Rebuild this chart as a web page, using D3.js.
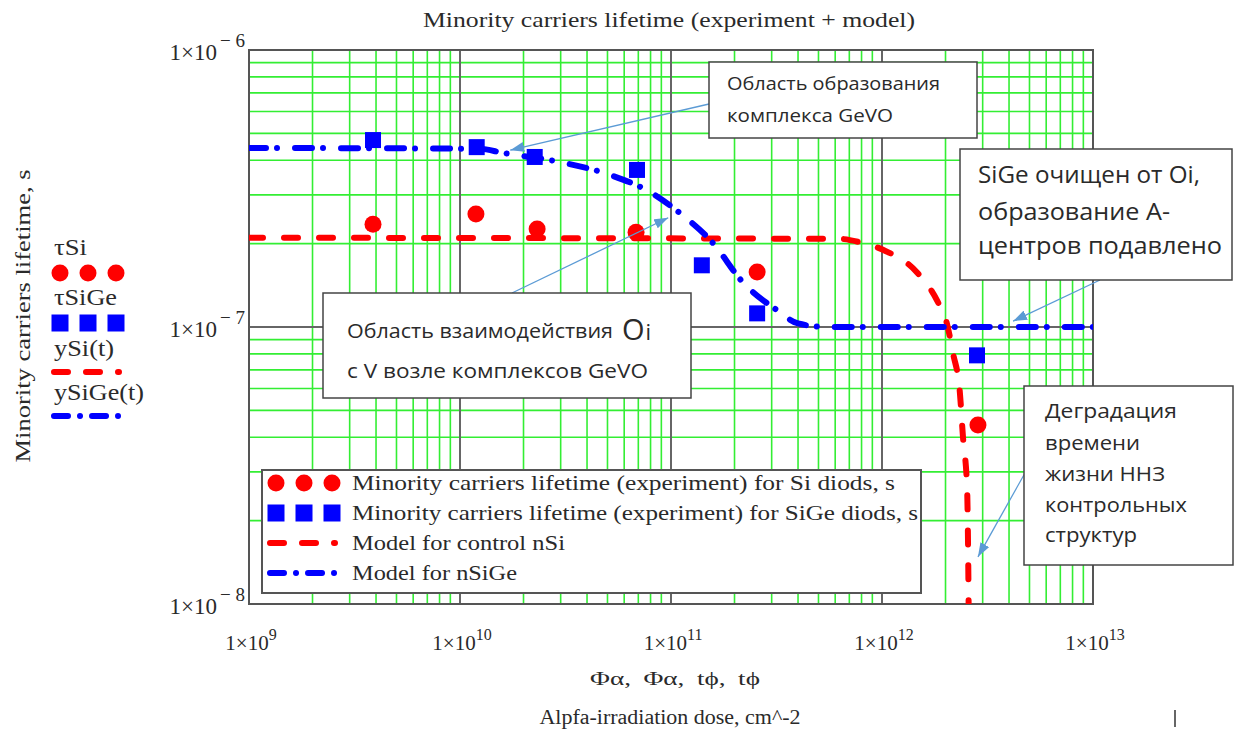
<!DOCTYPE html>
<html>
<head>
<meta charset="utf-8">
<script src="https://cdn.jsdelivr.net/npm/d3@7"></script>
<style>
  body { margin: 0; background: #fff; }
  svg { display: block; }
  .serif { font-family: 'Liberation Serif', 'Times New Roman', serif; fill: #2a2a2a; }
  .note { font-family: 'Open Sans', sans-serif; fill: #2a2a2a; }
</style>
</head>
<body>
<div id="chart"></div>
<script>
// experiment: Si diods
let siDose = [3.87e9, 1.19e10, 2.32e10, 6.83e10, 2.56e11, 2.85e12]
let siTau = [2.35e-7, 2.56e-7, 2.26e-7, 2.2e-7, 1.58e-7, 4.43e-8]

// experiment: SiGe diods
let sigeDose = [3.87e9, 1.2e10, 2.26e10, 6.9e10, 1.4e11, 2.56e11, 2.82e12]
let sigeTau = [4.73e-7, 4.46e-7, 4.11e-7, 3.69e-7, 1.67e-7, 1.12e-7, 7.9e-8]

// model for control nSi
let modelSiDose = [1e9, 6.3e11, 7.9e11, 1.01e12, 1.47e12, 1.82e12, 2.03e12, 2.17e12, 2.34e12, 2.42e12, 2.53e12, 2.56e12, 2.58e12]
let modelSiTau = [2.1e-7, 2.08e-7, 2.02e-7, 1.9e-7, 1.57e-7, 1.25e-7, 1.03e-7, 8.05e-8, 5.78e-8, 4.0e-8, 2.64e-8, 1.53e-8, 8e-9]

// model for nSiGe
let modelSiGeDose = [1e9, 1.24e10, 1.6e10, 2.98e10, 5.14e10, 7.95e10, 1.1e11, 1.58e11, 2.19e11, 3.18e11, 4.0e11, 5.5e11, 1e13]
let modelSiGeTau = [4.43e-7, 4.4e-7, 4.25e-7, 3.94e-7, 3.54e-7, 3.07e-7, 2.58e-7, 2.01e-7, 1.45e-7, 1.15e-7, 1.03e-7, 1.0e-7, 1.0e-7]

let xDomain = [1e9, 1e13]
let yDomain = [1e-8, 1e-6]
let xTickExp = ['9', '10', '11', '12', '13']
let yTickExp = ['− 8', '− 7', '− 6']

let legendLabels = [
  'Minority carriers lifetime (experiment) for Si diods, s',
  'Minority carriers lifetime (experiment) for SiGe diods, s',
  'Model for control nSi',
  'Model for nSiGe'
]
let legendWidths = [543, 566, 213, 165]
let sideLabels = ['τSi', 'τSiGe', 'ySi(t)', 'ySiGe(t)']
let sideWidths = [33, 63, 60, 90]

let width = 1234
let height = 729
let margin = { top: 50, left: 249, right: 141, bottom: 125 }
let plotW = width - margin.left - margin.right
let plotH = height - margin.top - margin.bottom

let red = '#ff0000'
let blue = '#0000ff'
let green = '#33ee33'
let dark = '#666'
let arrowColor = '#5b9bd5'

let svg = d3
  .select('#chart')
  .append('svg')
  .attr('width', width)
  .attr('height', height)

let defs = svg.append('defs')
defs
  .append('clipPath')
  .attr('id', 'clip')
  .append('rect')
  .attr('width', plotW)
  .attr('height', plotH)

defs
  .append('marker')
  .attr('id', 'arrow')
  .attr('viewBox', '0 0 14 10')
  .attr('refX', 14)
  .attr('refY', 5)
  .attr('markerWidth', 14)
  .attr('markerHeight', 10)
  .attr('markerUnits', 'userSpaceOnUse')
  .attr('orient', 'auto')
  .append('path')
  .attr('d', 'M0,0 L14,5 L0,10 Z')
  .attr('fill', arrowColor)

let x = d3.scaleLog().domain(xDomain).range([0, plotW])
let y = d3.scaleLog().domain(yDomain).range([plotH, 0])

let plot = svg
  .append('g')
  .attr('transform', 'translate(' + margin.left + ',' + margin.top + ')')

let isDecade = d => Math.abs(Math.log10(d) - Math.round(Math.log10(d))) < 1e-9

// stretched serif text, the source picture is wider than plain Times
function label(parent, txt, px, py, size, len, anchor) {
  return parent
    .append('text')
    .attr('class', 'serif')
    .attr('x', px)
    .attr('y', py)
    .attr('font-size', size)
    .attr('text-anchor', anchor || 'start')
    .attr('textLength', len)
    .attr('lengthAdjust', 'spacingAndGlyphs')
    .text(txt)
}

// grid: minor green first, decades on top
let xTicks = x.ticks()
let yTicks = y.ticks()

plot
  .selectAll('.vminor')
  .data(xTicks.filter(d => !isDecade(d)))
  .enter()
  .append('line')
  .attr('x1', d => x(d))
  .attr('x2', d => x(d))
  .attr('y1', 0)
  .attr('y2', plotH)
  .attr('stroke', green)
  .attr('stroke-width', 1.6)

plot
  .selectAll('.hminor')
  .data(yTicks.filter(d => !isDecade(d)))
  .enter()
  .append('line')
  .attr('x1', 0)
  .attr('x2', plotW)
  .attr('y1', d => y(d))
  .attr('y2', d => y(d))
  .attr('stroke', green)
  .attr('stroke-width', 1.6)

plot
  .selectAll('.vmajor')
  .data(xTicks.filter(isDecade))
  .enter()
  .append('line')
  .attr('x1', d => x(d))
  .attr('x2', d => x(d))
  .attr('y1', 0)
  .attr('y2', plotH)
  .attr('stroke', dark)
  .attr('stroke-width', 2)

plot
  .selectAll('.hmajor')
  .data(yTicks.filter(isDecade))
  .enter()
  .append('line')
  .attr('x1', 0)
  .attr('x2', plotW)
  .attr('y1', d => y(d))
  .attr('y2', d => y(d))
  .attr('stroke', dark)
  .attr('stroke-width', 2)

plot
  .append('rect')
  .attr('width', plotW)
  .attr('height', plotH)
  .attr('fill', 'none')
  .attr('stroke', '#555')
  .attr('stroke-width', 2)

// model curves
let line = d3
  .line()
  .x(d => x(d[0]))
  .y(d => y(d[1]))
  .curve(d3.curveMonotoneX)

let curves = plot.append('g').attr('clip-path', 'url(#clip)')

curves
  .append('path')
  .datum(d3.zip(modelSiDose, modelSiTau))
  .attr('d', line)
  .attr('fill', 'none')
  .attr('stroke', red)
  .attr('stroke-width', 6)
  .attr('stroke-linecap', 'round')
  .attr('stroke-dasharray', '14 21')

curves
  .append('path')
  .datum(d3.zip(modelSiGeDose, modelSiGeTau))
  .attr('d', line)
  .attr('fill', 'none')
  .attr('stroke', blue)
  .attr('stroke-width', 6)
  .attr('stroke-linecap', 'round')
  .attr('stroke-dasharray', '17 11 0.01 18')

// experiment points
plot
  .selectAll('.si')
  .data(d3.zip(siDose, siTau))
  .enter()
  .append('circle')
  .attr('cx', d => x(d[0]))
  .attr('cy', d => y(d[1]))
  .attr('r', 8.5)
  .attr('fill', red)

plot
  .selectAll('.sige')
  .data(d3.zip(sigeDose, sigeTau))
  .enter()
  .append('rect')
  .attr('x', d => x(d[0]) - 8)
  .attr('y', d => y(d[1]) - 8)
  .attr('width', 16)
  .attr('height', 16)
  .attr('fill', blue)

// tick labels
plot
  .selectAll('.xlab')
  .data(xTicks.filter(isDecade))
  .enter()
  .append('text')
  .attr('class', 'serif')
  .attr('x', d => x(d) + 2)
  .attr('y', plotH + 46)
  .attr('text-anchor', 'middle')
  .attr('font-size', 21)
  .each(function(d, i) {
    let t = d3.select(this)
    t.append('tspan').text('1×10')
    t.append('tspan').attr('dy', -10).attr('font-size', 16).text(xTickExp[i])
  })

plot
  .selectAll('.ylab')
  .data(yTicks.filter(isDecade))
  .enter()
  .append('text')
  .attr('class', 'serif')
  .attr('x', -4)
  .attr('y', d => y(d) + 10)
  .attr('text-anchor', 'end')
  .attr('font-size', 23)
  .each(function(d, i) {
    let t = d3.select(this)
    t.append('tspan').text('1×10')
    t.append('tspan').attr('dx', 3).attr('dy', -13).attr('font-size', 19).text(yTickExp[i])
  })

// titles
label(svg, 'Minority carriers lifetime (experiment + model)', 669, 27, 22, 492, 'middle')
label(svg, 'Φα, Φα, tϕ, tϕ', 675, 685, 19, 170, 'middle').attr('word-spacing', 4)
label(svg, 'Alpfa-irradiation dose, cm^-2', 670, 724, 20, 261, 'middle')
label(svg, 'Minority carriers lifetime, s', 0, 0, 22, 293, 'middle').attr(
  'transform',
  'translate(30,316) rotate(-90)'
)

svg
  .append('line')
  .attr('x1', 1175)
  .attr('x2', 1175)
  .attr('y1', 710)
  .attr('y2', 727)
  .attr('stroke', '#333')
  .attr('stroke-width', 1.5)

// symbol helpers for legends
function drawSymbol(g, i, x0, cy, step) {
  if (i === 0) {
    ;[0, 1, 2].forEach(k => {
      g.append('circle')
        .attr('cx', x0 + k * step)
        .attr('cy', cy)
        .attr('r', 8.5)
        .attr('fill', red)
    })
  } else if (i === 1) {
    ;[0, 1, 2].forEach(k => {
      g.append('rect')
        .attr('x', x0 + k * step - 8.5)
        .attr('y', cy - 8.5)
        .attr('width', 17)
        .attr('height', 17)
        .attr('fill', blue)
    })
  } else {
    g.append('line')
      .attr('x1', x0 - 6)
      .attr('x2', x0 + 2 * step + 3)
      .attr('y1', cy)
      .attr('y2', cy)
      .attr('stroke', i === 2 ? red : blue)
      .attr('stroke-width', 6)
      .attr('stroke-linecap', 'round')
      .attr('stroke-dasharray', i === 2 ? '14 18' : '14 12 0.01 12')
  }
}

// legend inside the plot
let legend = svg.append('g')
legend
  .append('rect')
  .attr('x', 262)
  .attr('y', 470)
  .attr('width', 659)
  .attr('height', 123)
  .attr('fill', '#fff')
  .attr('stroke', '#555')
  .attr('stroke-width', 2)

legend
  .selectAll('.legend-entry')
  .data(legendLabels)
  .enter()
  .append('g')
  .attr('class', 'legend-entry')
  .attr('transform', (d, i) => `translate(0,${483 + i * 30})`)
  .each(function(d, i) {
    let g = d3.select(this)
    drawSymbol(g, i, 276, 0, 28)
    label(g, d, 352, 7, 22, legendWidths[i])
  })

// Mathcad-style trace list on the left
let sideRows = [255, 305, 356, 400]
let side = svg.append('g')
side
  .selectAll('.side-entry')
  .data(sideLabels)
  .enter()
  .append('g')
  .attr('transform', (d, i) => `translate(0,${sideRows[i]})`)
  .each(function(d, i) {
    let g = d3.select(this)
    label(g, d, 54, 0, 23, sideWidths[i])
    drawSymbol(g, i, 60, i < 2 ? 18 : 16, 28)
  })

// callouts
let notes = [
  { box: [709, 62, 268, 76], x0: 727, size: 18,
    lines: [['Область образования', 90, 213], ['комплекса GeVO', 122, 166]],
    from: [709, 104], to: [1.73e10, 4.35e-7] },
  { box: [323, 293, 368, 105], x0: 347, size: 20,
    lines: [['Область взаимодействия', 338, 266], ['с V возле комплексов GeVO', 378, 301]],
    from: [512, 293], to: [9.7e10, 2.48e-7] },
  { box: [960, 149, 272, 131], x0: 978, size: 23,
    lines: [['SiGe очищен от Oi,', 183, 222], ['образование А-', 220, 192], ['центров подавлено', 254, 244]],
    from: [1100, 280], to: [4.18e12, 1.05e-7] },
  { box: [1024, 386, 209, 179], x0: 1045, size: 20,
    lines: [['Деградация', 418, 132], ['времени', 450, 95], ['жизни ННЗ', 481, 120], ['контрольных', 512, 142], ['структур', 542, 92]],
    from: [1025, 473], to: [2.85e12, 1.48e-8] }
]

let callouts = svg.append('g')
notes.forEach(n => {
  callouts
    .append('line')
    .attr('x1', n.from[0])
    .attr('y1', n.from[1])
    .attr('x2', margin.left + x(n.to[0]))
    .attr('y2', margin.top + y(n.to[1]))
    .attr('stroke', arrowColor)
    .attr('stroke-width', 1.3)
    .attr('marker-end', 'url(#arrow)')
})
notes.forEach((n, k) => {
  callouts
    .append('rect')
    .attr('x', n.box[0])
    .attr('y', n.box[1])
    .attr('width', n.box[2])
    .attr('height', n.box[3])
    .attr('fill', '#fff')
    .attr('stroke', '#444')
    .attr('stroke-width', 1.5)
  n.lines.forEach(l => {
    callouts
      .append('text')
      .attr('class', 'note')
      .attr('x', n.x0)
      .attr('y', l[1])
      .attr('font-size', n.size)
      .attr('textLength', l[2])
      .attr('lengthAdjust', 'spacingAndGlyphs')
      .text(l[0])
  })
  if (k === 1) {
    let oi = callouts
      .append('text')
      .attr('class', 'note')
      .attr('x', 622)
      .attr('y', 340)
    oi.append('tspan').attr('font-size', 29).text('O')
    oi.append('tspan').attr('font-size', 22).attr('dx', 1).text('i')
  }
})
</script>
</body>
</html>
